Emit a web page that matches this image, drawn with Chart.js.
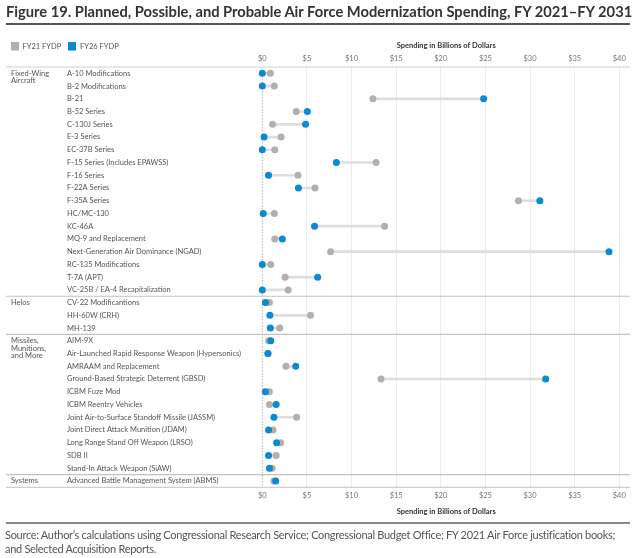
<!DOCTYPE html>
<html><head><meta charset="utf-8">
<script src="https://cdn.jsdelivr.net/npm/chart.js@4.4.1/dist/chart.umd.min.js"></script>
<style>
html,body{margin:0;padding:0;background:#fff;width:639px;height:558px;overflow:hidden;}
#wrap{position:absolute;left:0;top:0;width:639px;height:558px;}
#title{position:absolute;left:6px;top:2px;font:bold 14.7px Lato,sans-serif;color:#333;white-space:nowrap;}
#tline{position:absolute;left:6px;top:23px;width:624px;height:2px;background:#555;}
#sline{position:absolute;left:6px;top:522px;width:624px;height:2px;background:#8a8a8a;}
#source{position:absolute;left:5px;top:528px;width:634px;font:11px Lato,sans-serif;letter-spacing:-0.3px;color:#555;line-height:14px;}
</style></head>
<body>
<div id="wrap"><canvas id="c" width="639" height="558"></canvas></div>
<div id="title">Figure 19. Planned, Possible, and Probable Air Force Modernization Spending, FY 2021–FY 2031</div>
<div id="tline"></div>
<div id="sline"></div>
<div id="source">Source: Author’s calculations using Congressional Research Service; Congressional Budget Office; FY 2021 Air Force justification books;<br>and Selected Acquisition Reports.</div>
<script>
const groupNames = [["Fixed-Wing","Aircraft"],["Helos"],["Missiles,","Munitions,","and More"],["Systems"]];
const groupSizes = [18, 3, 11, 1];
const programs = [
  "A-10 Modifications","B-2 Modifications","B-21","B-52 Series","C-130J Series","E-3 Series","EC-37B Series",
  "F-15 Series (Includes EPAWSS)","F-16 Series","F-22A Series","F-35A Series","HC/MC-130","KC-46A",
  "MQ-9 and Replacement","Next-Generation Air Dominance (NGAD)","RC-135 Modifications","T-7A (APT)",
  "VC-25B / EA-4 Recapitalization",
  "CV-22 Modificantions","HH-60W (CRH)","MH-139",
  "AIM-9X","Air-Launched Rapid Response Weapon (Hypersonics)","AMRAAM and Replacement",
  "Ground-Based Strategic Deterrent (GBSD)","ICBM Fuze Mod","ICBM Reentry Vehicles",
  "Joint Air-to-Surface Standoff Missile (JASSM)","Joint Direct Attack Munition (JDAM)",
  "Long Range Stand Off Weapon (LRSO)","SDB II","Stand-In Attack Weapon (SiAW)",
  "Advanced Battle Management System (ABMS)"
];
const fy21 = [0.9,1.35,12.4,3.8,1.15,2.1,1.4,12.75,4.0,5.9,28.7,1.35,13.7,1.4,7.65,0.95,2.55,2.9,
              0.8,5.4,1.95,
              0.7,0.6,2.65,13.3,0.8,0.8,3.85,1.2,2.05,1.55,1.1,
              1.3];
const fy26 = [0,0,24.8,5.05,4.85,0.2,0,8.3,0.7,4.05,31.1,0.1,5.85,2.25,38.85,0,6.2,0,
              0.35,0.85,0.9,
              0.95,0.65,3.75,31.75,0.35,1.55,1.3,0.7,1.6,0.7,0.8,
              1.5];
const xTickValues = [0,5,10,15,20,25,30,35,40];
const seriesNames = ["FY21 FYDP","FY26 FYDP"];
const axisTitle = "Spending in Billions of Dollars";

const GRAY = "#b8aea8", BLUE = "#0a8ad4";
const FONT = "Lato, sans-serif";

function fitX(h){ return function(s){ s.height = h; }; }
function keepTicks(axis){ axis.ticks = xTickValues.map(v => ({value: v})); }

const decor = {
  id: "decor",
  beforeDatasetsDraw(chart){
    const {ctx, chartArea: a, scales} = chart;
    const x0 = scales.x.getPixelForValue(0);
    ctx.save();
    ctx.strokeStyle = "#b5b5b5"; ctx.lineWidth = 1; ctx.setLineDash([1.5,1.5]);
    ctx.beginPath(); ctx.moveTo(x0, a.top); ctx.lineTo(x0, a.bottom); ctx.stroke();
    ctx.setLineDash([]);
    ctx.strokeStyle = "#cfcfcf"; ctx.lineWidth = 1.2;
    [a.top, a.bottom].forEach(y => { ctx.beginPath(); ctx.moveTo(6, y); ctx.lineTo(a.right, y); ctx.stroke(); });
    const ys = scales.y;
    const step = (a.bottom - a.top) / programs.length;
    let idx = 0;
    ctx.strokeStyle = "#c2c2c2";
    groupSizes.forEach((n, g) => {
      ctx.fillStyle = "#555"; ctx.font = "7.5px " + FONT; ctx.textBaseline = "middle"; ctx.textAlign = "left";
      groupNames[g].forEach((t, k) => ctx.fillText(t, 11, ys.getPixelForValue(idx) + k*7.3));
      idx += n;
      if (g < groupSizes.length - 1) {
        const yb = ys.getPixelForValue(idx) - step/2;
        ctx.beginPath(); ctx.moveTo(6, yb); ctx.lineTo(a.right, yb); ctx.stroke();
      }
    });
    const cols = [GRAY, BLUE], lx = [11, 68], tx = [22.5, 80];
    ctx.font = "7.5px " + FONT; ctx.textBaseline = "middle"; ctx.textAlign = "left";
    seriesNames.forEach((s, i) => {
      ctx.fillStyle = cols[i]; ctx.fillRect(lx[i], 42, 8, 8.5);
      ctx.fillStyle = "#555"; ctx.fillText(s, tx[i], 46.5);
    });
    ctx.restore();
  }
};

const xCommon = {
  type: "linear", min: 0, max: 41.2,
  afterBuildTicks: keepTicks,
  border: {display: false},
  ticks: {callback: v => "$" + v, font: {family: FONT, size: 7.5}, color: "#777", maxRotation: 0, autoSkip: false},
  title: {display: true, text: axisTitle, font: {family: FONT, size: 7.5, weight: "bold"}, color: "#333"}
};

new Chart(document.getElementById("c"), {
  type: "bar",
  data: {
    labels: programs,
    datasets: [
      {type: "line", label: seriesNames[1], data: fy26, indexAxis: "y", xAxisID: "x", yAxisID: "y",
       showLine: false, pointRadius: 3.5, pointHoverRadius: 3.5, pointBorderWidth: 0,
       backgroundColor: BLUE, pointBackgroundColor: BLUE, borderColor: BLUE, clip: false, order: 1},
      {type: "line", label: seriesNames[0], data: fy21, indexAxis: "y", xAxisID: "x", yAxisID: "y",
       showLine: false, pointRadius: 3.5, pointHoverRadius: 3.5, pointBorderWidth: 0,
       backgroundColor: GRAY, pointBackgroundColor: GRAY, borderColor: GRAY, clip: false, order: 2},
      {type: "bar", label: "range", data: programs.map((_, i) => [Math.min(fy21[i], fy26[i]), Math.max(fy21[i], fy26[i])]),
       indexAxis: "y", xAxisID: "x", yAxisID: "y", backgroundColor: "#dedede", borderWidth: 0,
       barThickness: 2, borderSkipped: false, order: 3}
    ]
  },
  options: {
    indexAxis: "y",
    responsive: false,
    animation: false,
    events: [],
    layout: {padding: {top: 30, left: 67, right: 9, bottom: 38}},
    plugins: {legend: {display: false}, tooltip: {enabled: false}},
    scales: {
      x: Object.assign({}, xCommon, {
        position: "bottom",
        afterFit: fitX(32.7),
        grid: {drawTicks: false, color: c => c.tick && c.tick.value === 0 ? "rgba(0,0,0,0)" : "#ececec", lineWidth: 1},
        ticks: Object.assign({}, xCommon.ticks, {padding: 4.2}),
        title: Object.assign({}, xCommon.title, {padding: {top: 0, bottom: 3.8}})
      }),
      x2: Object.assign({}, xCommon, {
        position: "top",
        afterFit: fitX(37),
        grid: {display: false, drawTicks: false},
        ticks: Object.assign({}, xCommon.ticks, {padding: 3.5}),
        title: Object.assign({}, xCommon.title, {padding: {top: 11.2, bottom: 0}})
      }),
      y: {
        type: "category", offset: true,
        afterFit: s => { s.width = 195.3; },
        grid: {display: false, drawTicks: false},
        border: {display: false},
        ticks: {crossAlign: "far", padding: 0, autoSkip: false, font: {family: FONT, size: 7.5}, color: "#555"}
      }
    }
  },
  plugins: [decor]
});
</script>
</body></html>
